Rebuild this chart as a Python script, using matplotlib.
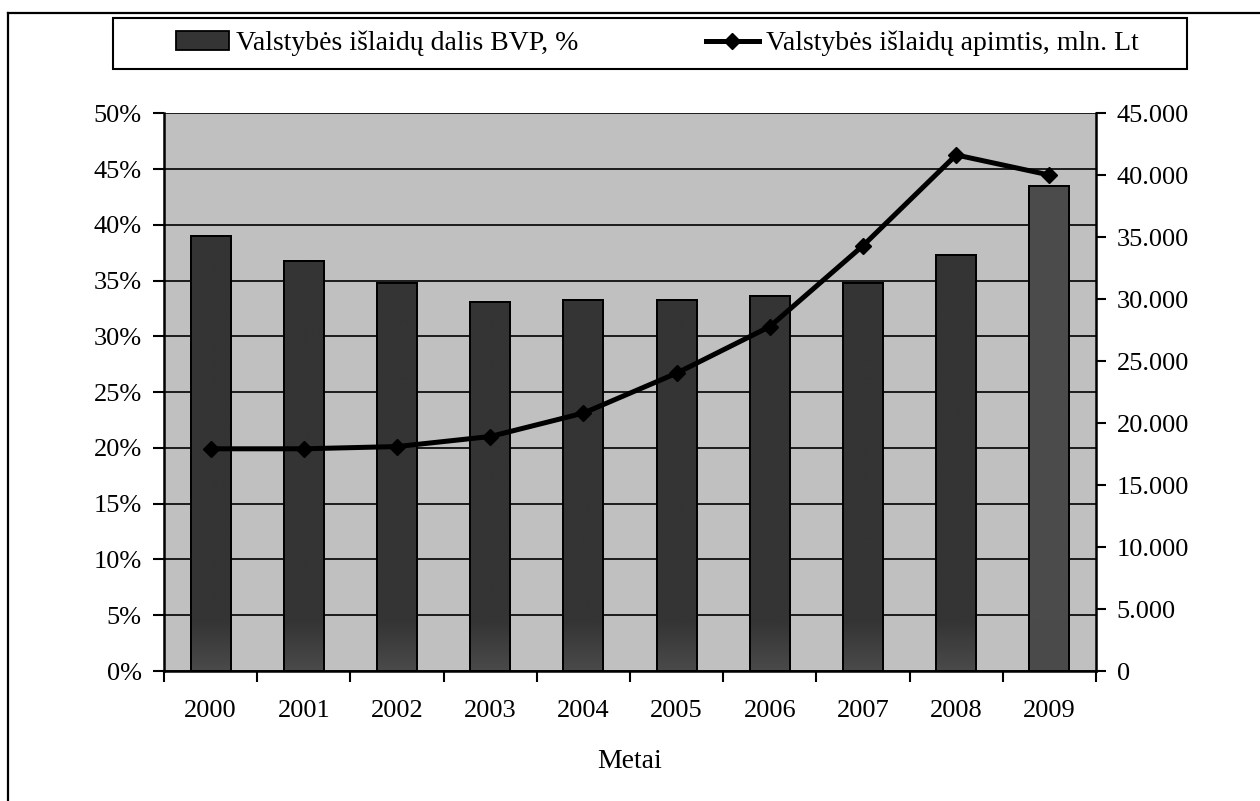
import numpy as np
import matplotlib
matplotlib.use("Agg")
import matplotlib.pyplot as plt
from matplotlib.lines import Line2D
from matplotlib.patches import Patch, Rectangle
from matplotlib.colors import LinearSegmentedColormap
from matplotlib.ticker import FuncFormatter, MultipleLocator, FixedLocator

plt.rcParams["font.family"] = ["Liberation Serif", "DejaVu Serif"]

# ---------- data ----------
years = ["2000", "2001", "2002", "2003", "2004", "2005", "2006", "2007", "2008", "2009"]
share_gdp = [39.0, 36.8, 34.8, 33.1, 33.3, 33.3, 33.6, 34.8, 37.3, 43.5]  # %
spending = [17930, 17930, 18110, 18920, 20810, 24030, 27790, 34320, 41640, 40020]  # mln. Lt

bar_label = "Valstybės išlaidų dalis BVP, %"
line_label = "Valstybės išlaidų apimtis, mln. Lt"

W, H = 1260, 801
fig = plt.figure(figsize=(W / 100, H / 100), dpi=100)
ax = fig.add_axes([164 / W, 1 - 671 / H, (1096 - 164) / W, (671 - 113.3) / H])
ax.set_facecolor("#c0c0c0")

x = np.arange(len(years))
bar_colors = ["#343434"] * 9 + ["#4b4b4b"]
bars = ax.bar(x, share_gdp, width=0.43, color=bar_colors, edgecolor="black",
              linewidth=1.4, zorder=2)

# faint lighter shading at the foot of each bar
for b, c in zip(bars, bar_colors):
    x0, w, h = b.get_x(), b.get_width(), b.get_height()
    ramp = np.clip(1 - np.linspace(0, h, 200) / 4.5, 0, 1).reshape(-1, 1)
    img = ax.imshow(ramp, extent=(x0, x0 + w, 0, h), origin="lower", aspect="auto",
                    cmap=LinearSegmentedColormap.from_list("g", [c, "#4a4a4a"]),
                    vmin=0, vmax=1, zorder=2.1)
    img.set_clip_path(b)
    ax.add_patch(Rectangle((x0, 0), w, h, fill=False, edgecolor="black",
                           linewidth=1.4, zorder=2.2))

ax.set_xlim(-0.5, len(years) - 0.5)
ax.set_ylim(0, 50)
ax.yaxis.set_major_locator(MultipleLocator(5))
ax.yaxis.set_major_formatter(FuncFormatter(lambda v, p: f"{v:.0f}%"))
ax.grid(axis="y", color="black", linewidth=1.2, zorder=1)
ax.set_axisbelow(True)

ax.xaxis.set_major_locator(FixedLocator(np.arange(-0.5, len(years), 1.0)))
ax.xaxis.set_major_formatter(FuncFormatter(lambda v, p: ""))
ax.set_xticks(x, minor=True)
ax.set_xticklabels(years, minor=True)
ax.tick_params(axis="x", which="minor", length=0, pad=21, labelsize=19)
ax.tick_params(axis="x", which="major", length=8, width=1.5, direction="out")
ax.tick_params(axis="y", length=8, width=1.5, direction="out", pad=8, labelsize=19)

for side in ["top", "right"]:
    ax.spines[side].set_visible(False)
for side in ["left", "bottom"]:
    ax.spines[side].set_linewidth(1.8)

ax2 = ax.twinx()
ax2.plot(x, spending, color="black", linewidth=3.6, marker="D", markersize=8.5,
         markerfacecolor="black", zorder=5)
ax2.set_ylim(0, 45000)
ax2.yaxis.set_major_locator(MultipleLocator(5000))
ax2.yaxis.set_major_formatter(FuncFormatter(lambda v, p: f"{v:,.0f}".replace(",", ".")))
ax2.tick_params(axis="y", length=7, width=1.5, direction="out", pad=8, labelsize=19)
for side in ["top", "left", "bottom"]:
    ax2.spines[side].set_visible(False)
ax2.spines["right"].set_linewidth(1.8)

fig.text(630 / W, 1 - 768 / H, "Metai", ha="center", va="baseline", fontsize=20)

# legend (frame drawn separately)
handles = [Patch(facecolor="#343434", edgecolor="black", linewidth=1.3),
           Line2D([], [], color="black", linewidth=3.6, marker="D", markersize=8.5)]
fig.legend(handles, [bar_label, line_label], ncol=2, loc="center left",
           bbox_to_anchor=(176 / W, 1 - 43.5 / H), fontsize=20, frameon=False,
           handlelength=1.9, handletextpad=0.25, columnspacing=4.6,
           borderpad=0, borderaxespad=0)
fig.add_artist(Rectangle((113 / W, 1 - 69 / H), 1074 / W, 51 / H, transform=fig.transFigure,
                         fill=False, edgecolor="black", linewidth=1.5))

# outer chart frame (top and left edges visible)
fig.add_artist(Line2D([8 / W, 8 / W], [0, 1 - 13 / H], color="black", linewidth=1.6))
fig.add_artist(Line2D([8 / W, 1], [1 - 13 / H, 1 - 13 / H], color="black", linewidth=1.6))

fig.savefig("out.png", dpi=100)
